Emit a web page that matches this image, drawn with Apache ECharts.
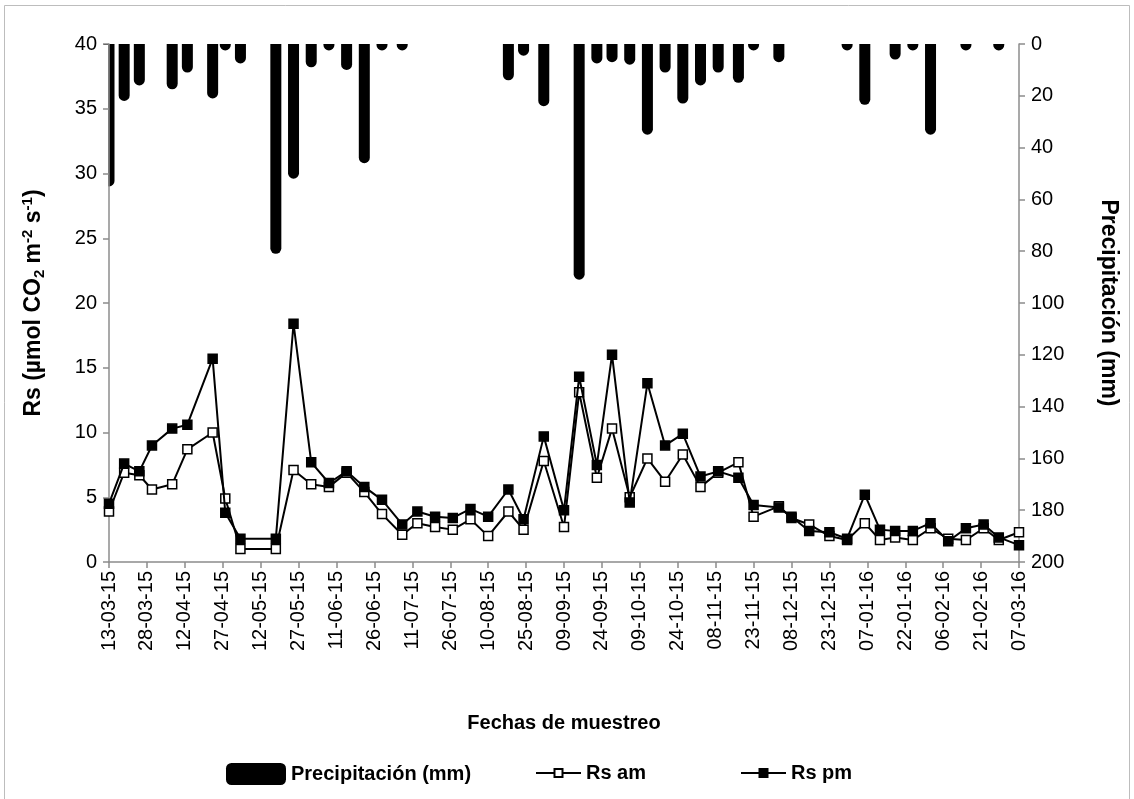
<!DOCTYPE html>
<html>
<head>
<meta charset="utf-8">
<script src="https://cdn.jsdelivr.net/npm/echarts@6/dist/echarts.min.js"></script>
<style>
  html, body { margin: 0; padding: 0; background: #ffffff; }
  #chart { width: 1134px; height: 799px; }
</style>
</head>
<body>
<div id="chart"></div>
<script>
// Fechas de muestreo (AAAA-MM-DD)
const fechas = [
  '2015-03-13','2015-03-19','2015-03-25','2015-03-30','2015-04-07','2015-04-13','2015-04-23','2015-04-28',
  '2015-05-04','2015-05-18','2015-05-25','2015-06-01','2015-06-08','2015-06-15','2015-06-22','2015-06-29',
  '2015-07-07','2015-07-13','2015-07-20','2015-07-27','2015-08-03','2015-08-10','2015-08-18','2015-08-24',
  '2015-09-01','2015-09-09','2015-09-15','2015-09-22','2015-09-28','2015-10-05','2015-10-12','2015-10-19',
  '2015-10-26','2015-11-02','2015-11-09','2015-11-17','2015-11-23','2015-12-03','2015-12-08','2015-12-15',
  '2015-12-23','2015-12-30','2016-01-06','2016-01-12','2016-01-18','2016-01-25','2016-02-01','2016-02-08',
  '2016-02-15','2016-02-22','2016-02-28','2016-03-07'
];

// Respiración del suelo, mañana (µmol CO2 m-2 s-1)
const rsAm = [
  3.9, 6.9, 6.7, 5.6, 6.0, 8.7, 10.0, 4.9,
  1.0, 1.0, 7.1, 6.0, 5.8, 6.9, 5.4, 3.7,
  2.1, 3.0, 2.7, 2.5, 3.3, 2.0, 3.9, 2.5,
  7.8, 2.7, 13.1, 6.5, 10.3, 5.0, 8.0, 6.2,
  8.3, 5.8, 6.9, 7.7, 3.5, 4.3, 3.4, 2.9,
  2.0, 1.7, 3.0, 1.7, 1.9, 1.7, 2.6, 1.8,
  1.7, 2.6, 1.7, 2.3
];

// Respiración del suelo, tarde (µmol CO2 m-2 s-1)
const rsPm = [
  4.5, 7.6, 7.0, 9.0, 10.3, 10.6, 15.7, 3.8,
  1.8, 1.8, 18.4, 7.7, 6.1, 7.0, 5.8, 4.8,
  2.9, 3.9, 3.5, 3.4, 4.1, 3.5, 5.6, 3.3,
  9.7, 4.0, 14.3, 7.5, 16.0, 4.6, 13.8, 9.0,
  9.9, 6.6, 7.0, 6.5, 4.4, 4.2, 3.5, 2.4,
  2.3, 1.8, 5.2, 2.5, 2.4, 2.4, 3.0, 1.6,
  2.6, 2.9, 1.9, 1.3
];

// Precipitación acumulada en cada fecha (mm)
const precipitacion = [
  55, 22, 16, 0, 17.5, 11, 21, 2.5,
  7.5, 81, 52, 9, 2.5, 10, 46, 2.5,
  2.5, 0, 0, 0, 0, 0, 14, 4.5,
  24, 0, 91, 7.5, 7, 8, 35, 11,
  23, 16, 11, 15, 2.5, 7, 0, 0,
  0, 2.5, 23.5, 0, 6, 2.5, 35, 0,
  2.5, 0, 2.5, 0
];

// Etiquetas del eje X, una cada 15 días
const etiquetasFecha = [
  '13-03-15','28-03-15','12-04-15','27-04-15','12-05-15','27-05-15','11-06-15','26-06-15',
  '11-07-15','26-07-15','10-08-15','25-08-15','09-09-15','24-09-15','09-10-15','24-10-15',
  '08-11-15','23-11-15','08-12-15','23-12-15','07-01-16','22-01-16','06-02-16','21-02-16','07-03-16'
];

const DIA_MS = 86400000;
const inicio = Date.UTC(2015, 2, 13);
function diaRelativo(f) {
  const p = f.split('-').map(Number);
  return Math.round((Date.UTC(p[0], p[1] - 1, p[2]) - inicio) / DIA_MS);
}
const dias = fechas.map(diaRelativo);
const pares = (vals) => dias.map((d, i) => [d, vals[i]]);

const FONT = '"Liberation Sans", Arial, sans-serif';
const GRIS = '#8c8c8c';
const textoLeyenda = { fontFamily: FONT, fontSize: 20, fontWeight: 'bold', color: '#000' };

const chart = echarts.init(document.getElementById('chart'), null, { renderer: 'canvas' });

chart.setOption({
  animation: false,
  backgroundColor: '#ffffff',
  textStyle: { fontFamily: FONT, color: '#000' },
  graphic: [
    {
      // marco exterior del gráfico
      type: 'rect',
      shape: { x: 4.5, y: 5.5, width: 1125, height: 810 },
      style: { fill: 'none', stroke: '#bdbdbd', lineWidth: 1 },
      silent: true, z: -10
    },
    {
      // recorta la barra del primer día que sobresale a la izquierda del eje
      type: 'rect',
      shape: { x: 96, y: 45, width: 12.3, height: 160 },
      style: { fill: '#ffffff' },
      silent: true, z: 1.5
    }
  ],
  grid: {
    left: 109, right: 115, top: 44, bottom: 237,
    containLabel: false, outerBoundsMode: 'none'
  },
  legend: [
    {
      data: ['Precipitación (mm)'],
      left: 226, top: 763, padding: 0, itemGap: 0,
      icon: 'roundRect', itemWidth: 60, itemHeight: 22,
      textStyle: textoLeyenda
    },
    {
      data: ['Rs am'],
      left: 535, top: 763, padding: 0,
      itemWidth: 45, itemHeight: 10,
      textStyle: textoLeyenda
    },
    {
      data: ['Rs pm'],
      left: 740, top: 763, padding: 0,
      itemWidth: 45, itemHeight: 10,
      textStyle: textoLeyenda
    }
  ],
  xAxis: {
    type: 'value',
    min: 0, max: 360, interval: 15,
    name: 'Fechas de muestreo',
    nameLocation: 'middle',
    nameGap: 151,
    nameMoveOverlap: false,
    nameTextStyle: { fontFamily: FONT, fontSize: 20, fontWeight: 'bold', color: '#000' },
    axisLine: { show: true, onZero: false, lineStyle: { color: GRIS, width: 1.5 } },
    axisTick: { show: true, length: 6, lineStyle: { color: GRIS, width: 1.5 } },
    splitLine: { show: false },
    axisLabel: {
      rotate: 90, margin: 9, fontFamily: FONT, fontSize: 20, color: '#000',
      formatter: (v) => etiquetasFecha[Math.round(v / 15)] || ''
    }
  },
  yAxis: [
    {
      type: 'value', position: 'left', z: 3,
      min: 0, max: 40, interval: 5,
      name: '{b|Rs (µmol CO}{sub|2}{b| m}{sup|-2}{b| s}{sup|-1}{b|)}',
      nameLocation: 'middle', nameRotate: 90, nameGap: 62,
      nameMoveOverlap: false,
      nameTextStyle: {
        rich: {
          b: { fontFamily: FONT, fontSize: 23, fontWeight: 'bold', color: '#000', lineHeight: 27 },
          sub: { fontFamily: FONT, fontSize: 15, fontWeight: 'bold', color: '#000', verticalAlign: 'bottom', lineHeight: 15 },
          sup: { fontFamily: FONT, fontSize: 15, fontWeight: 'bold', color: '#000', verticalAlign: 'top', lineHeight: 15 }
        }
      },
      axisLine: { show: true, lineStyle: { color: GRIS, width: 1.5 } },
      axisTick: { show: true, length: 6, lineStyle: { color: GRIS, width: 1.5 } },
      splitLine: { show: false },
      axisLabel: { margin: 12, fontFamily: FONT, fontSize: 20, color: '#000' }
    },
    {
      type: 'value', position: 'right', z: 3,
      min: 0, max: 200, interval: 20, inverse: true,
      name: 'Precipitación (mm)',
      nameLocation: 'middle', nameRotate: -90, nameGap: 78,
      nameMoveOverlap: false,
      nameTextStyle: { fontFamily: FONT, fontSize: 23, fontWeight: 'bold', color: '#000' },
      axisLine: { show: true, lineStyle: { color: GRIS, width: 1.5 } },
      axisTick: { show: true, length: 6, lineStyle: { color: GRIS, width: 1.5 } },
      splitLine: { show: false },
      axisLabel: { margin: 12, fontFamily: FONT, fontSize: 20, color: '#000' }
    }
  ],
  series: [
    {
      name: 'Precipitación (mm)',
      type: 'bar',
      yAxisIndex: 1,
      data: pares(precipitacion),
      barWidth: 11,
      clip: true,
      itemStyle: { color: '#000', borderRadius: [0, 0, 5.5, 5.5] },
      z: 1
    },
    {
      name: 'Rs am',
      type: 'line',
      yAxisIndex: 0,
      data: pares(rsAm),
      symbol: 'rect', symbolSize: 9,
      lineStyle: { color: '#000', width: 2 },
      itemStyle: { color: '#fff', borderColor: '#000', borderWidth: 1.5 },
      z: 3
    },
    {
      name: 'Rs pm',
      type: 'line',
      yAxisIndex: 0,
      data: pares(rsPm),
      symbol: 'rect', symbolSize: 9,
      lineStyle: { color: '#000', width: 2 },
      itemStyle: { color: '#000', borderColor: '#000', borderWidth: 1.5 },
      z: 4
    }
  ]
});
</script>
</body>
</html>
